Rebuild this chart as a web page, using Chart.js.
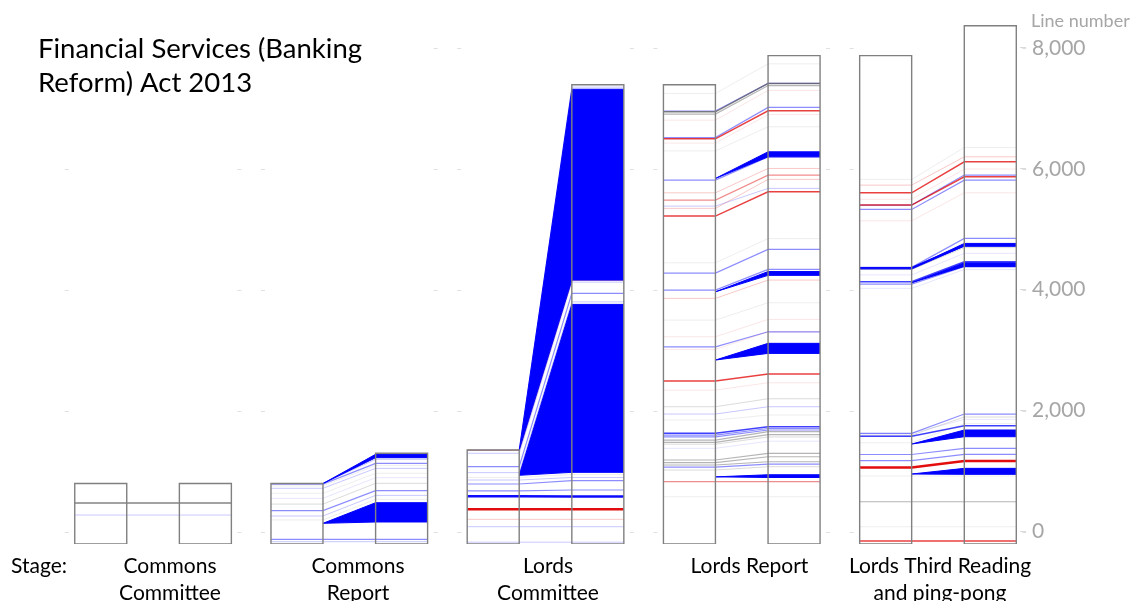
<!DOCTYPE html>
<html>
<head>
<meta charset="utf-8">
<script src="https://cdn.jsdelivr.net/npm/chart.js@4.4.0/dist/chart.umd.min.js"></script>
<style>
  html, body { margin: 0; padding: 0; background: #fff; }
  #wrap { width: 1137px; height: 601px; }
</style>
</head>
<body>
<div id="wrap"><canvas id="myChart" width="1137" height="601"></canvas></div>
<script>
// bill stages and the bill length (in lines) going into and coming out of each
var titleLines = ['Financial Services (Banking', 'Reform) Act 2013'];
var stages = [['Commons', 'Committee'], ['Commons', 'Report'], ['Lords', 'Committee'], ['Lords Report'], ['Lords Third Reading', 'and ping-pong']];
var linesBefore = [1000, 1000, 1555, 7595, 8075];
var linesAfter = [1000, 1500, 7595, 8075, 8570];
var axisTicks = [0, 2000, 4000, 6000, 8000];

// changed lines per stage: [line before, line after, kind, weight]
var ccLines = [
  [679, 679, 'same', 4], [479, 479, 'ins', 2]
];
var crLines = [
  [38, 38, 'ins', 2], [78, 78, 'ins', 3], [397, 738, 'same', 1], [463, 804, 'ins', 2],
  [551, 881, 'ins', 3], [660, 1003, 'same', 2], [755, 1096, 'ins', 1], [838, 1169, 'same', 1],
  [921, 1251, 'ins', 2], [960, 1300, 'same', 1], [990, 1334, 'ins', 3], [1000, 1400, 'ins', 2]
];
var lcLines = [
  [30, 30, 'ins', 2], [286, 286, 'ins', 2], [408, 408, 'del', 2], [573, 573, 'del', 5],
  [573, 573, 'ins', 2], [790, 785, 'ins', 5], [790, 785, 'del', 2], [880, 893, 'ins', 3],
  [992, 1047, 'ins', 3], [1058, 1100, 'ins', 2], [1100, 1150, 'same', 1], [1180, 4004, 'ins', 2],
  [1278, 4144, 'ins', 3], [1500, 4330, 'ins', 2], [1550, 4364, 'del', 3], [1554, 7555, 'ins', 2]
];
var lrLines = [
  [782, 782, 'same', 1], [1030, 1030, 'del', 3], [1223, 1278, 'same', 2], [1270, 1320, 'ins', 3],
  [1306, 1360, 'same', 3], [1344, 1443, 'same', 3], [1389, 1500, 'same', 3], [1582, 1700, 'ins', 1],
  [1650, 1770, 'same', 2], [1680, 1810, 'same', 3], [1719, 1857, 'same', 3], [1770, 1885, 'ins', 3],
  [1800, 1910, 'ins', 3], [1830, 1939, 'ins', 4], [2050, 2132, 'same', 1], [2149, 2270, 'ins', 2],
  [2270, 2402, 'same', 2], [2545, 2666, 'del', 1], [2694, 2810, 'del', 4], [3218, 3509, 'del', 1],
  [3260, 3509, 'ins', 3], [3427, 3714, 'del', 1], [3702, 3989, 'same', 1], [4062, 4364, 'del', 2],
  [4199, 4541, 'ins', 3], [4480, 4872, 'ins', 3], [4650, 5050, 'same', 1], [5422, 5824, 'del', 4],
  [5550, 6029, 'del', 2], [5587, 5880, 'ins', 2], [5686, 6100, 'del', 3], [5807, 6210, 'del', 2],
  [6017, 6402, 'ins', 3], [6500, 6899, 'same', 1], [6629, 7100, 'del', 1], [6700, 7163, 'del', 4],
  [6720, 7219, 'ins', 3], [7009, 7500, 'del', 1], [7108, 7580, 'same', 3], [7146, 7616, 'same', 4],
  [7160, 7616, 'ins', 3], [7450, 7940, 'same', 1]
];
var ltLines = [
  [50, 50, 'del', 4], [286, 286, 'same', 1], [699, 699, 'same', 3], [1124, 1124, 'same', 1],
  [1265, 1372, 'del', 5], [1380, 1483, 'ins', 3], [1480, 1582, 'ins', 3], [1675, 1990, 'same', 1],
  [1780, 1955, 'ins', 4], [1800, 2100, 'same', 2], [1830, 2061, 'ins', 1], [1830, 2149, 'ins', 3],
  [4227, 4540, 'ins', 1], [4298, 4584, 'ins', 3], [4336, 4667, 'ins', 4], [4450, 4806, 'ins', 1],
  [4541, 4900, 'same', 2], [4560, 4942, 'ins', 5], [4574, 5053, 'ins', 3], [5344, 5807, 'del', 1],
  [5532, 6017, 'ins', 3], [5604, 6071, 'del', 4], [5604, 6100, 'ins', 3], [5700, 6200, 'del', 1],
  [5807, 6319, 'del', 4], [5934, 6402, 'del', 2], [6029, 6557, 'same', 1]
];
var stageLines = [ccLines, crLines, lcLines, lrLines, ltLines];

// inserted blocks: [stage, inserted at (before), first new line, last new line]
var insertions = [
  [1, 342, 364, 683], [1, 1000, 1427, 1483],
  [2, 1136, 1185, 3962], [2, 1554, 4364, 7520],
  [3, 1110, 1100, 1145], [3, 3042, 3152, 3318], [3, 4170, 4442, 4505], [3, 6045, 6402, 6485],
  [4, 1157, 1152, 1251], [4, 1653, 1774, 1885], [4, 4320, 4590, 4650], [4, 4560, 4925, 4970]
];

// layout (x in stage units, stage i centred on i)
var colOffset = 0.2666, halfBox = 0.1325;
var labelX = [170, 358, 548, 749.5, 940];
var kindRgb = { ins: '0,0,255', del: '225,0,0', same: '90,90,90' };
var weightAlpha = [0.10, 0.22, 0.45, 0.75, 0.95];
var weightWidth = [1, 1, 1.2, 1.5, 2.5];

function colX(stage, col, side) {
  return stage + (col ? 1 : -1) * colOffset + side * halfBox;
}

var datasets = [];

// boxes on top
stages.forEach(function (s, i) {
  [linesBefore[i], linesAfter[i]].forEach(function (h, col) {
    var l = colX(i, col, -1), r = colX(i, col, 1);
    datasets.push({
      data: [{x: l, y: 0}, {x: l, y: h}, {x: r, y: h}, {x: r, y: 0}, {x: l, y: 0}],
      borderColor: '#808080', borderWidth: 1.4, order: 0
    });
  });
});

// inserted blocks, filled between an upper and lower edge
insertions.forEach(function (w) {
  var s = w[0];
  var upperIndex = datasets.length;
  datasets.push({
    data: [{x: colX(s, 0, 1), y: w[1]}, {x: colX(s, 1, -1), y: w[3]}, {x: colX(s, 1, 1), y: w[3]}],
    borderColor: 'rgb(0,0,255)', borderWidth: 1, order: 1
  });
  datasets.push({
    data: [{x: colX(s, 0, 1), y: w[1]}, {x: colX(s, 1, -1), y: w[2]}, {x: colX(s, 1, 1), y: w[2]}],
    borderColor: 'rgb(0,0,255)', borderWidth: 1, order: 1,
    fill: {target: upperIndex}, backgroundColor: 'rgb(0,0,255)'
  });
});

// individual changed lines
stageLines.forEach(function (list, s) {
  list.forEach(function (ln) {
    datasets.push({
      data: [{x: colX(s, 0, -1), y: ln[0]}, {x: colX(s, 0, 1), y: ln[0]},
             {x: colX(s, 1, -1), y: ln[1]}, {x: colX(s, 1, 1), y: ln[1]}],
      borderColor: 'rgba(' + kindRgb[ln[2]] + ',' + weightAlpha[ln[3] - 1] + ')',
      borderWidth: weightWidth[ln[3] - 1], order: 2
    });
  });
});

var textPlugin = {
  id: 'texts',
  afterDraw: function (chart) {
    var ctx = chart.ctx;
    var yR = chart.scales.yR;
    ctx.save();
    // faint stage tick dashes
    ctx.strokeStyle = 'rgba(0,0,0,0.12)';
    ctx.lineWidth = 1;
    stages.forEach(function (s, i) {
      [-0.44, 0.44].forEach(function (d) {
        var px = chart.scales.x.getPixelForValue(i + d);
        axisTicks.forEach(function (t) {
          var py = Math.round(yR.getPixelForValue(t)) + 0.5;
          ctx.beginPath(); ctx.moveTo(px - 2, py); ctx.lineTo(px + 2, py); ctx.stroke();
        });
      });
    });
    ctx.fillStyle = '#000';
    ctx.textBaseline = 'alphabetic';
    ctx.textAlign = 'left';
    ctx.font = '27.5px Lato';
    ctx.fillText(titleLines[0], 38, 58);
    ctx.fillText(titleLines[1], 38, 92);
    ctx.font = '21px Lato';
    ctx.fillText('Stage:', 11, 573);
    ctx.textAlign = 'center';
    stages.forEach(function (s, i) {
      s.forEach(function (txt, k) {
        ctx.fillText(txt, labelX[i], 573 + k * 27);
      });
    });
    ctx.textAlign = 'left';
    ctx.fillStyle = '#a6a6a6';
    ctx.font = '18px Lato';
    ctx.fillText('Line number', 1031, 27);
    ctx.restore();
  }
};

function draw() {
  var ctx = document.getElementById('myChart').getContext('2d');
  new Chart(ctx, {
    type: 'line',
    data: { datasets: datasets },
    options: {
      responsive: false,
      animation: false,
      events: [],
      layout: { padding: { top: 10, bottom: 57, left: 0, right: 0 } },
      elements: { point: { radius: 0 }, line: { tension: 0, fill: false, borderCapStyle: 'butt' } },
      plugins: { legend: { display: false }, tooltip: { enabled: false } },
      scales: {
        x: { type: 'linear', min: -0.78, max: 4.418, display: false },
        y: { type: 'linear', min: 0, max: 8830, display: false },
        yR: {
          type: 'linear', position: 'right', min: -205, max: 8625,
          afterBuildTicks: function (scale) {
            scale.ticks = axisTicks.map(function (v) { return {value: v}; });
          },
          afterFit: function (scale) {
            scale.width = 117;
            scale.paddingTop = 0;
            scale.paddingBottom = 0;
          },
          grid: { drawOnChartArea: false, tickLength: 6, color: '#d9d9d9' },
          border: { display: false },
          ticks: {
            padding: 6, color: '#a6a6a6', font: { family: 'Lato', size: 21 },
            callback: function (v) { return v.toLocaleString('en-US'); }
          }
        }
      }
    },
    plugins: [textPlugin]
  });
}

document.fonts.load('21px Lato').then(draw, draw);
</script>
</body>
</html>
